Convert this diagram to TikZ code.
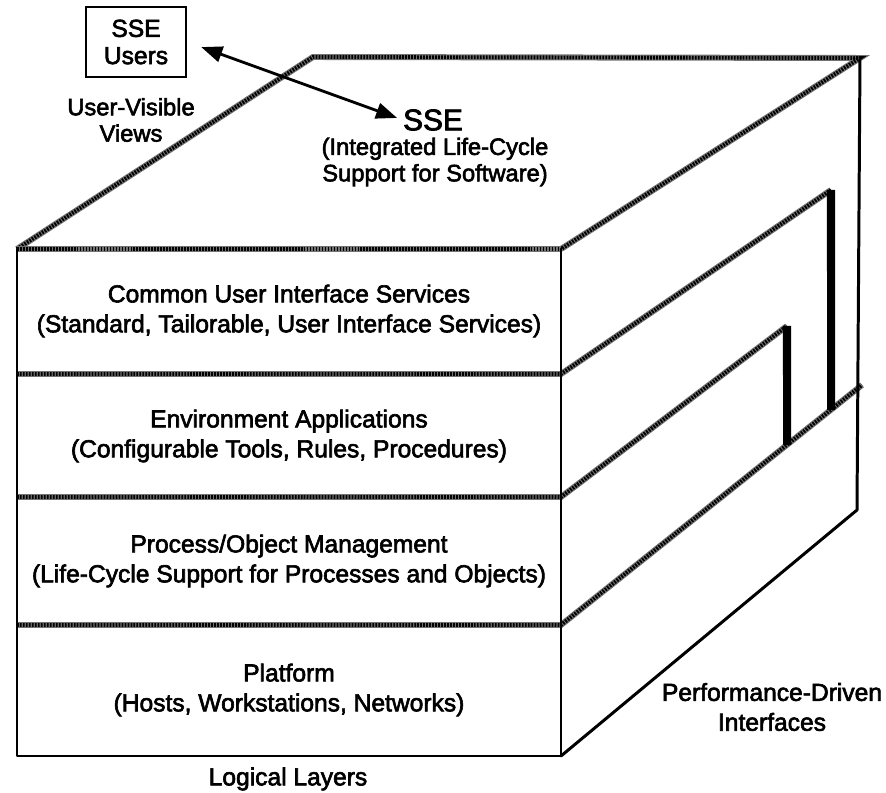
\documentclass[tikz,border=0pt]{standalone}
\usepackage{fontspec}
\setmainfont{Liberation Sans}[FakeBold=2.5]
\usetikzlibrary{arrows.meta}

\tikzset{
  shaded edge/.style={draw=black!55, line width=3.4pt,
    postaction={draw=black, line width=2.2pt, dash pattern=on 1pt off 0.7pt}},
  solid edge/.style={draw=black, line width=1.7pt, line join=round, line cap=round},
  bar edge/.style={draw=black, line width=4.6pt},
  layer text/.style={align=center, inner sep=0pt, font=\fontsize{14}{17}\selectfont},
  small text/.style={align=center, inner sep=0pt, font=\fontsize{13.5}{15}\selectfont},
}

\begin{document}
\begin{tikzpicture}[x=0.02cm, y=-0.02cm]
  \useasboundingbox (0,0) rectangle (886,793);

  % corners of the cube
  \coordinate (ftl) at (17,249);
  \coordinate (ftr) at (561,249);
  \coordinate (fbr) at (561,756);
  \coordinate (fbl) at (17,756);
  \coordinate (btl) at (313,57);
  \coordinate (btr) at (860,58);
  \coordinate (bbr) at (857,510);

  % layer boundaries on the front face
  \coordinate (fl1) at (17,374);  \coordinate (fr1) at (561,374);
  \coordinate (fl2) at (17,497);  \coordinate (fr2) at (561,497);
  \coordinate (fl3) at (17,625);  \coordinate (fr3) at (561,625);

  % their ends on the side face
  \coordinate (s1) at (831,190);
  \coordinate (s2) at (787,326);
  \coordinate (s3) at (862,385);
  \coordinate (d1) at (831,600);
  \coordinate (d2) at (787,600);

  % top face and front top edge
  \draw[shaded edge] (ftl) -- (btl) -- (btr) -- (ftr);
  \draw[shaded edge] (ftl) -- (ftr);

  % layers
  \draw[shaded edge] (fl1) -- (fr1) -- (s1);
  \draw[shaded edge] (fl2) -- (fr2) -- (s2);
  \draw[shaded edge] (fl3) -- (fr3) -- (s3);

  % outline
  \draw[solid edge] (ftl) -- (fbl) -- (fbr) -- (ftr);
  \draw[solid edge] (btr) -- (bbr) -- (fbr);

  % interfaces between layers
  \draw[bar edge] (s1) -- (intersection of s1--d1 and fr3--s3);
  \draw[bar edge] (s2) -- (intersection of s2--d2 and fr3--s3);

  % texts
  \node[layer text] (ui) at (289,311) {Common User Interface Services\\(Standard, Tailorable, User Interface Services)};
  \node[layer text] (apps) at (289,436) {Environment Applications\\(Configurable Tools, Rules, Procedures)};
  \node[layer text] (pom) at (289,561) {Process/Object Management\\(Life-Cycle Support for Processes and Objects)};
  \node[layer text] (platform) at (289,690) {Platform\\(Hosts, Workstations, Networks)};
  \node[layer text] (logical) at (288,779) {Logical Layers};
  \node[layer text] (perf) at (772,707) {Performance-Driven\\Interfaces};

  \node[draw, line width=1.3pt, minimum width=2cm, minimum height=1.4cm, align=center,
    inner sep=0pt, font=\fontsize{14}{15.5}\selectfont] (users) at (136,42) {SSE\\Users};
  \node[small text] (views) at (131,120) {User-Visible\\Views};
  \node[inner sep=0pt, font=\fontsize{17}{19}\selectfont] (sse) at (433,120) {SSE};
  \node[small text] (ssedesc) at (435,162) {(Integrated Life-Cycle\\Support for Software)};

  \draw[line width=1.6pt, {Triangle[length=12pt,width=9pt]}-{Triangle[length=12pt,width=9pt]},
    shorten <=0.3cm, shorten >=0.12cm] (users.east) -- (sse.west);
\end{tikzpicture}
\end{document}
